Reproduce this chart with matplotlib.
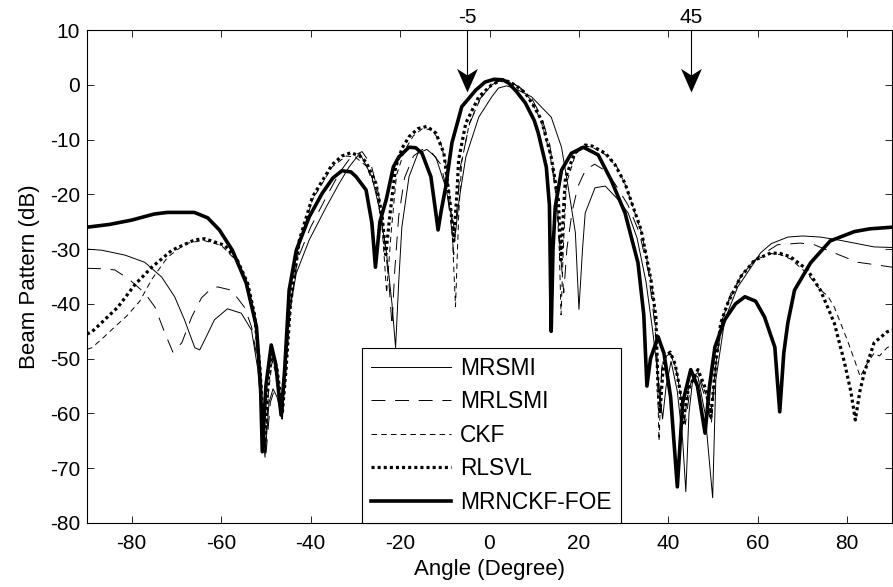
import matplotlib
matplotlib.use("Agg")
import matplotlib.pyplot as plt
from matplotlib.path import Path

plt.rcParams["font.family"] = ["Liberation Sans", "DejaVu Sans"]
plt.rcParams["lines.scale_dashes"] = False
plt.rcParams["axes.unicode_minus"] = False

# Beam patterns (dB) against arrival angle (degree)
MRSMI_ANG = [-90, -86.7, -81.5, -77.1, -73.3, -70.4, -68.2, -65.9, -64.8, -63.7, -61.5, -58.6,
             -55.5, -53.2, -51.8, -50.2, -49.3, -48.4, -47.5, -46.4, -45.5, -44.8, -43.2, -40.3,
             -36.5, -33.6, -31.4, -29, -26.3, -24.7, -23.1, -21.8, -21, -20.3, -19.6, -18, -16,
             -14, -12, -9.8, -8.5, -7.6, -6.8, -5.3, -2.4, 0.5, 2, 3.8, 5.5, 9.4, 13.8, 16.1,
             17.6, 19.2, 20, 20.8, 21.4, 23.6, 25.9, 28.8, 31, 33, 35, 36.5, 37.5, 38.7, 39.5,
             40.6, 42, 43.2, 43.9, 44.6, 45.5, 46.6, 48.2, 49.9, 50.6, 52.6, 55.5, 57.1, 60.6,
             63, 66.7, 70, 74, 77.8, 81.6, 86, 90]
MRSMI_DB = [-30, -30.2, -31.1, -32.4, -35.1, -38.7, -42.9, -48, -48.4, -46.6, -42.9, -40.9,
            -41.7, -44.8, -52, -68, -58, -55.5, -57, -61, -50, -41.7, -34.4, -28.3,
            -22.3, -18, -15, -12.5, -16.8, -22.3, -30.2, -40, -48, -36, -26, -16.8, -12.5,
            -11.8, -13.2, -18.7, -24, -27, -21, -13.2, -5.9, -2.2, -0.6, -0.2, -0.6, -2.2, -5.9, -11.4,
            -18.7, -27, -41, -30, -23.4, -18.8, -18.5, -21, -23.4, -28, -36, -45, -52, -61, -55,
            -50.5, -56, -65, -74.3, -60, -53.3, -53.3, -60, -75.4, -53.9, -42.9, -36.9, -35, -30.7,
            -29, -27.8, -27.6, -27.8, -28.3, -28.9, -29.6, -29.7]

MRLSMI_ANG = [-90, -86, -83.8, -80.9, -77.1, -74.8, -72.6, -70.8, -68.8, -66.6, -64.4, -62.1,
              -60.8, -57.7, -54.8, -53.2, -51.5, -50, -49, -48.1, -47.2, -46.3, -45.4, -44.5,
              -43, -40, -36.5, -33.5, -31, -28.5, -26.5, -24.8, -23.5, -22.5, -21.8, -21.2,
              -20.3, -19, -17, -15, -13, -10.9, -9.5, -8.5, -8, -7.4, -6.5, -4.5, -2, 0.5, 2.5,
              4.5, 7, 9.5, 11.6, 13.5, 15, 15.8, 16.6, 17.3, 18.5, 19.8, 21.5, 23.5, 25.5, 28,
              31, 33.5, 35.5, 37, 38, 38.7, 40.5, 42, 43.8, 45, 46.4, 48.2, 49.6, 50.5, 52, 54,
              57, 60, 64.4, 69.5, 72.6, 77.1, 82.3, 86.7, 90]
MRLSMI_DB = [-33.5, -33.6, -33.8, -35.3, -38, -40.6, -45.3, -48.8, -47.1, -42.4, -38.9, -37.1,
             -36.9, -37.5, -40.6, -44.2, -52, -67.6, -58, -55.7, -57, -61, -50, -40,
             -32, -26, -20.5, -16, -13.2, -12.2, -14.5, -20, -28, -36, -44, -34,
             -24, -17, -13, -11.8, -12.3, -14.5, -19.5, -26, -31, -24, -15, -7.2, -2.4, 0, 0.8,
             0.6, -0.6, -2.6, -5.8, -11, -20, -30, -38, -30, -23, -18.5, -15.5, -14.5, -15.5, -18,
             -22, -27, -34, -44, -58, -50, -49, -53, -62, -54.5, -52.5, -57, -62, -52, -43, -38,
             -34, -31.5, -29.2, -28.9, -29.2, -30.7, -32.4, -32.9, -33.3]

CKF_ANG = [-90, -88.9, -86.4, -83.8, -81.1, -78.2, -75.5, -72, -68, -64, -60, -56.4, -54.1,
           -52.6, -51.2, -50.2, -49.4, -48.6, -47.6, -46.4, -45.6, -44.5, -42.5, -39.6, -35.2,
           -32, -30, -27.6, -25.4, -24, -23, -22, -20.8, -19, -17, -15, -13, -11, -9.6, -8.5,
           -7.6, -6.9, -6.2, -4.5, -2, 0.5, 2.5, 4.5, 6.5, 9, 11.5, 13.5, 15, 15.6, 16, 16.5,
           17.2, 19.3, 21.5, 23, 26, 28.5, 30.5, 34, 36.2, 37.3, 37.9, 38.5, 39.5, 40.6, 41.8,
           43, 43.6, 44.5, 46.6, 48.4, 49.4, 50.6, 51.8, 53.5, 56.2, 59.3, 62.9, 65, 67.3, 71.1,
           74, 75.6, 77.1, 80, 81.6, 82.9, 84.5, 86, 87.2, 88.9, 90]
CKF_DB = [-48.3, -48, -46.2, -44.2, -42.2, -39.5, -35.5, -31.5, -29, -28.4, -29.3, -32.3, -36.5,
          -42, -53, -67, -56, -50.5, -53, -61, -53, -41, -29, -21, -15,
          -13, -13.2, -14.8, -19, -26, -38, -27, -16.5, -12, -9.3, -8, -8.2, -10.3, -15, -24,
          -40.5, -24, -14, -7, -2.5, 0, 0.9, 0.7, -0.4, -2.5, -6.5, -12.5, -21, -30, -42, -30,
          -18, -12.5, -11.2, -11.4, -12.8, -15, -18.5, -27, -36, -45, -65, -52, -49.5, -49.2, -52,
          -58, -61, -55.5, -52.5, -56.5, -61, -51, -43.5, -39.5, -35, -32, -30.8, -31, -31.8, -34.5,
          -37.5, -38.5, -40.6, -46.6, -50.2, -53.3, -50.8, -49, -49.5, -48, -47.5]

RLSVL_ANG = [-90, -88.9, -83.1, -79.3, -75.5, -71, -65.9, -63.7, -59.2, -56.4, -54.1, -52.6,
             -51.3, -50.3, -49.5, -48.6, -47.5, -46.3, -45.5, -44.5, -42.5, -39.6, -35.2, -33,
             -31, -29, -27.6, -25.4, -24, -23.2, -22.3, -21, -19.5, -18, -16, -14, -12, -10.2,
             -8.7, -8, -7.3, -6.9, -5.3, -2.4, 0.5, 2.5, 4.3, 6, 8, 10, 11.6, 13.8, 15.4, 16,
             16.6, 17, 19, 21.4, 23, 25.9, 28, 30.3, 33.9, 36.1, 37.2, 37.7, 38.1, 38.7, 39.2,
             40.4, 41.5, 42.6, 43.3, 44.4, 46.6, 48.4, 49.5, 50.6, 51.7, 53.3, 56.2, 59.3, 62.9,
             65, 67.3, 71.1, 74, 77.1, 79.4, 80.8, 81.8, 82.8, 83.8, 86, 88.9, 90]
RLSVL_DB = [-45.5, -45.1, -40.6, -36.5, -33.3, -30.2, -28.3, -28.1, -29.3, -32, -36.2, -41.7,
            -52, -66, -54, -49, -52, -59.7, -52, -40, -28.3, -20.5, -14.6, -13,
            -12.4, -13, -14.1, -18, -24, -31, -24, -15, -11.5, -9.5, -8, -7.6, -8.8, -12.5,
            -22.3, -28.5, -20, -13.7, -7, -2.2, 0, 0.8, 0.6, -0.2, -1.5, -4, -6.4, -13.2, -21, -32,
            -22, -17, -12.5, -11, -11.2, -12.5, -14.5, -18, -26.5, -35.6, -42.4, -55.7, -60, -53, -49.7,
            -48.8, -51, -55.7, -61.7, -55.7, -52, -55.7, -60.6, -50.8, -43.5, -39.8, -35, -32, -30.7,
            -30.8, -31.4, -33.8, -37.5, -43.5, -50.8, -56, -61.2, -56, -52.6, -47.1, -45.1, -44.8]

FOE_ANG = [-90, -85, -80, -75, -72, -66, -63, -60.4, -57.5, -54.4, -52.1, -51.2, -50.8, -50,
           -48.8, -47.8, -46.6, -45.8, -44.8, -43.2, -40.3, -37.4, -35, -33, -31, -29.8, -27.6,
           -26.3, -25.5, -24.5, -23.1, -21.5, -20.3, -18, -16.5, -15.1, -13.1, -12, -11.5, -10.8,
           -9.8, -8.4, -6.2, -3.1, -1, 1, 3, 4.3, 6, 8, 10, 10.9, 12.7, 13.4, 13.8, 14.2, 14.7,
           16.1, 18.3, 21, 24.3, 27.2, 30.3, 33.2, 34.5, 35.2, 36, 37.7, 39, 40.5, 42, 43.2, 45,
           46.5, 48.2, 49.2, 50.4, 52.6, 55, 57.1, 59.5, 61.5, 63.8, 64.9, 65.8, 66.7, 68.2, 71.8,
           76.2, 81.6, 85, 90]
FOE_DB = [-26, -25.5, -24.7, -23.6, -23.3, -23.3, -24.3, -26.5, -30.2, -36.2, -44.2, -55, -67, -55,
          -47.5, -51, -60.3, -52, -37.5, -30.2, -24.1, -19.8, -17, -15.7, -15.9, -16.8, -19.2,
          -25.2, -33.3, -25, -21, -15, -13.2, -11.4, -11.5, -12.5, -16.8, -23.4, -26.5, -23,
          -18.7, -10.6, -4, -1, 0.5, 1, 0.9, 0.3, -1.2, -3.3, -6.5, -8.8, -15, -22, -45, -30, -22.3,
          -15.6, -12.5, -11.4, -12.8, -17.4, -23.4, -32.5, -42, -55, -50, -46, -49, -57, -73.4, -58, -52,
          -55, -63.6, -55, -47.9, -42.9, -40, -38.7, -39.5, -42.4, -47.9, -59.7, -49, -43.5, -37.5, -32.5,
          -28.5, -26.8, -26.3, -26]

LABELS = ["MRSMI", "MRLSMI", "CKF", "RLSVL", "MRNCKF-FOE"]

# Marked look directions
ARROW_ANGLES = [-5, 45]
ARROW_TEXT = ["-5", "45"]
ARROW_TIP_DB = -1.3

fig = plt.figure(figsize=(8.93, 5.87), dpi=100)
ax = fig.add_axes([87 / 893, 1 - 523 / 587, 805 / 893, 493 / 587])

series = [
    (MRSMI_ANG, MRSMI_DB, dict(lw=0.7, ls="-")),
    (MRLSMI_ANG, MRLSMI_DB, dict(lw=0.7, ls=(0, (10, 7)))),
    (CKF_ANG, CKF_DB, dict(lw=0.7, ls=(0, (4, 3)))),
    (RLSVL_ANG, RLSVL_DB, dict(lw=2.3, ls=(0, (2.2, 2.2)), dash_capstyle="butt")),
    (FOE_ANG, FOE_DB, dict(lw=2.6, ls="-")),
]
for (ang, db, style), label in zip(series, LABELS):
    ax.plot(ang, db, color="k", label=label, **style)

# arrow head with a notched back, tip at the marker origin
head = Path([(0, 0), (-0.44, 1.0), (0, 0.72), (0.44, 1.0), (0, 0)],
            [Path.MOVETO, Path.LINETO, Path.LINETO, Path.LINETO, Path.CLOSEPOLY])
for a, txt in zip(ARROW_ANGLES, ARROW_TEXT):
    ax.plot([a, a], [10, ARROW_TIP_DB + 2], color="k", lw=0.8, clip_on=False)
    ax.plot([a], [ARROW_TIP_DB], marker=head, ms=34, color="k", mec="k", mew=0,
            clip_on=False)
    ax.annotate(txt, (a, 10), xytext=(0, 2), textcoords="offset points",
                ha="center", va="bottom", fontsize=15)

ax.set_xlim(-90, 90)
ax.set_ylim(-80, 10)
ax.set_xticks(range(-80, 81, 20))
ax.set_yticks(range(-80, 11, 10))
ax.tick_params(direction="in", length=5, width=0.6, top=True, right=True, labelsize=15)
ax.tick_params(axis="x", pad=8)
ax.tick_params(axis="y", pad=5)
for s in ax.spines.values():
    s.set_linewidth(0.8)
ax.set_xlabel("Angle (Degree)", fontsize=16, labelpad=4)
ax.set_ylabel("Beam Pattern (dB)", fontsize=16, labelpad=7)

leg = ax.legend(loc="lower left", bbox_to_anchor=((362 - 87) / 805, 0), borderaxespad=0,
                fontsize=16.4, handlelength=3.5, handletextpad=0.4, labelspacing=0.46,
                borderpad=0.4, fancybox=False, framealpha=1, edgecolor="k")
leg.get_frame().set_linewidth(0.8)

fig.savefig("out.png", dpi=100)
